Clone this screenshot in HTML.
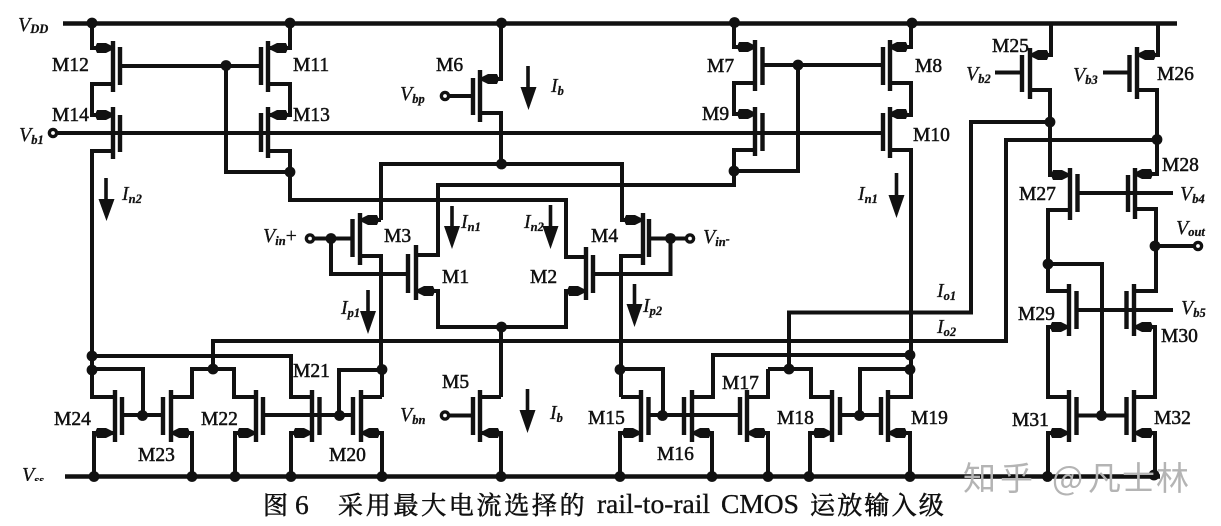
<!DOCTYPE html>
<html><head><meta charset="utf-8"><title>rail-to-rail CMOS</title>
<style>
html,body{margin:0;padding:0;background:#fff;width:1221px;height:526px;overflow:hidden}
svg{display:block}
.w{fill:none;stroke:#111;stroke-width:4;stroke-linejoin:miter}
.c{fill:none;stroke:#111;stroke-width:4.4}
.m{font:19.5px "Liberation Serif",serif;fill:#111;stroke:#111;stroke-width:.5}
.i{font:italic 20px "Liberation Serif",serif;fill:#111;stroke:#111;stroke-width:.25}
.i tspan{font-size:12.5px;font-weight:bold}
.a{fill:#111;stroke:none}
.k{font:25px "Noto Serif CJK SC","Liberation Serif",serif;fill:#111;stroke:#111;stroke-width:.6}
.l{font:27.5px "Liberation Serif",serif;fill:#111;stroke:#111;stroke-width:.35}
.z{font:33px "Noto Sans CJK SC","Liberation Sans",sans-serif;fill:#b4b4b4}
</style></head><body>
<svg width="1221" height="526" viewBox="0 0 1221 526" xmlns="http://www.w3.org/2000/svg">
<defs>
<path id="r" d="M-7,-5 Q-10,0 -7,5 L2,5 L9,1.500 L9,-1.500 L2,-5Z" fill="#111"/>
<path id="l" d="M7,-5 Q10,0 7,5 L-2,5 L-9,1.500 L-9,-1.500 L-2,-5Z" fill="#111"/>
<circle id="d" r="5.4" fill="#111"/>
</defs>
<rect width="1221" height="526" fill="#fff"/>

<!-- rails -->
<path class="w" style="stroke-width:4.4" d="M63,23.5H1177"/>
<path class="w" style="stroke-width:4.4" d="M65,476.5H1160"/>
<path class="w" d="M58,133H882"/>

<!-- upper left -->
<path class="w" d="M92,23V48H113M113,84H92V115H113M113,151H92V356M122,66H261"/>
<path class="w" d="M290,23V48H268M268,84H290V115H268M268,151H290V200H566V257H586M226,66V172H290"/>
<path class="c" d="M113,41V92M120,47V85M113,107V159M120,115V152M268,41V92M261,47V85M268,107V158M261,113V152"/>

<!-- M6 -->
<path class="w" d="M501,23V79H480M480,113H501V164M449,96H473"/>
<path class="c" d="M480,70V122M473,78V115"/>

<!-- tail node -->
<path class="w" d="M381,220V164H622V220H643M381,220H360M360,256H381V370"/>
<path class="w" d="M643,256H621V397"/>
<path class="w" d="M382,370V397M416,255H438V185H734V171"/>

<!-- M7 M9 -->
<path class="w" d="M734,23V47H755M755,83H734V114H755M755,150H734V185M734,171H798V65M763,65H883"/>
<path class="c" d="M755,40V91M762.5,47V85M755,107V156M762.5,113V151"/>

<!-- M8 M10 -->
<path class="w" d="M911,23V47H890M890,83H911V115H890M890,150H911V369"/>
<path class="c" d="M890,40V91M883,47V85M890,107V158M883,113V151"/>

<!-- M3 M4 M1 M2 -->
<path class="w" d="M314,238.5H352M331,238.5V274H408"/>
<path class="w" d="M686,238.5H649M670.5,238.5V274H593"/>
<path class="w" d="M416,291H438V327H566V291H586M501,327V397"/>
<path class="c" d="M360,213V265M352.5,219V257M643,213V265M649,219V257M416,245V300M408,254V293M586,247V300M593,255V293"/>

<!-- M5 -->
<path class="w" d="M449,415.5H473M480,397H501M480,433H501V476"/>
<path class="c" d="M480,390V442M473,397V435"/>

<!-- Io lines -->
<path class="w" d="M1050,122H971V312.5H789V369"/>
<path class="w" d="M1157,140H1006V341H213V369"/>

<!-- lower left mirrors -->
<path class="w" d="M92,356H291V397H312M92,356V397H115M92,369H143V415M122,415H163"/>
<path class="w" d="M171,397H192V369H234V397H256M263,415H353M339,415V370H382M361,397H382"/>
<path class="w" d="M115,433H94V476M171,433H192V476M256,433H235V476M312,433H291V476M361,433H382V476"/>
<path class="c" d="M115,390V442M122,397V435M171,390V442M163,397V435M256,390V442M263,397V435M312,390V442M319.5,397V435M361,390V442M353,397V435"/>

<!-- lower right mirrors -->
<path class="w" d="M621,369H663V415M621,397H641M649,415H740M692,397H713V355H911M768,369H811V397H832M768,369V397H747M840,415H881M860,415V369H911M888,397H911V369"/>
<path class="w" d="M641,433H620V476M692,433H712V476M747,433H768V476M832,433H810V476M888,433H910V476"/>
<path class="c" d="M641,390V442M648.5,397V435M692,390V442M684,397V435M747,390V442M740,397V435M832,390V442M840,397V435M888,390V442M881,397V435"/>

<!-- output stage -->
<path class="w" d="M1051,23V55H1030M1030,90H1050V175H1070M995,72.5H1022"/>
<path class="w" d="M1158,23V55H1137M1137,90H1157V174H1135M1103,72.5H1129"/>
<path class="w" d="M1077,193H1173M1070,210H1048V291H1069M1048,264H1102V415M1135,209H1156V291H1134M1156,246H1194"/>
<path class="w" d="M1077,310H1173M1069,327H1048V397H1069M1134,327H1155V397H1134M1077,415.5H1126M1069,433H1048V476M1134,433H1155V476"/>
<path class="c" d="M1030,48V99M1022,55V92M1137,47V99M1129.5,55V92M1070,168V220M1077.5,174V212M1135,168V219M1128,175V212M1069,284V336M1076.5,291V329M1134,284V336M1126.5,291V329M1069,390V442M1076.5,397V435M1134,390V442M1126.5,397V435"/>

<!-- source arrows -->
<use href="#r" x="104" y="48"/><use href="#r" x="104" y="115"/><use href="#r" x="746" y="47"/><use href="#r" x="746" y="114"/><use href="#r" x="633" y="220"/><use href="#r" x="1060" y="175"/>
<use href="#l" x="279" y="48"/><use href="#l" x="279" y="115"/><use href="#l" x="490" y="79"/><use href="#l" x="899" y="47"/><use href="#l" x="899" y="114"/><use href="#l" x="370" y="220"/><use href="#l" x="1040" y="55"/><use href="#l" x="1147" y="55"/><use href="#l" x="1144" y="174"/>
<use href="#r" x="104" y="433"/><use href="#r" x="302" y="433"/><use href="#r" x="246" y="433"/><use href="#r" x="631" y="433"/><use href="#r" x="576" y="291"/><use href="#r" x="1059" y="327"/><use href="#r" x="1059" y="433"/><use href="#r" x="822" y="433"/>
<use href="#l" x="426" y="291"/><use href="#l" x="491" y="433"/><use href="#l" x="181" y="433"/><use href="#l" x="371" y="433"/><use href="#l" x="702" y="433"/><use href="#l" x="757" y="433"/><use href="#l" x="898" y="433"/><use href="#l" x="1144" y="327"/><use href="#l" x="1144" y="433"/>

<!-- dots -->
<use href="#d" x="92" y="23"/><use href="#d" x="290" y="23"/><use href="#d" x="501.5" y="23"/><use href="#d" x="734.5" y="22.5"/><use href="#d" x="912" y="23"/>
<use href="#d" x="226" y="65.5"/><use href="#d" x="798" y="65"/><use href="#d" x="290" y="172"/><use href="#d" x="734" y="171"/><use href="#d" x="501.5" y="164"/>
<use href="#d" x="331" y="238.5"/><use href="#d" x="670.5" y="238.5"/><use href="#d" x="501.5" y="327"/>
<use href="#d" x="92" y="356"/><use href="#d" x="92" y="370"/><use href="#d" x="213" y="369"/><use href="#d" x="382" y="369.5"/><use href="#d" x="620" y="369.5"/><use href="#d" x="789" y="369"/><use href="#d" x="910" y="355"/><use href="#d" x="910" y="369.5"/>
<use href="#d" x="142.5" y="415.5"/><use href="#d" x="339.5" y="415.5"/><use href="#d" x="662.5" y="415.5"/><use href="#d" x="859.5" y="415.5"/><use href="#d" x="1101.5" y="415.5"/>
<use href="#d" x="94" y="476.5"/><use href="#d" x="192" y="476.5"/><use href="#d" x="235" y="476.5"/><use href="#d" x="291" y="476.5"/><use href="#d" x="382" y="476.5"/><use href="#d" x="501" y="476.5"/><use href="#d" x="620" y="476.5"/><use href="#d" x="712" y="476.5"/><use href="#d" x="768" y="476.5"/><use href="#d" x="809" y="476.5"/><use href="#d" x="910" y="476.5"/><use href="#d" x="1047.5" y="476.5"/><use href="#d" x="1154" y="475"/>
<use href="#d" x="1050" y="122"/><use href="#d" x="1157" y="139.5"/><use href="#d" x="1048" y="264"/><use href="#d" x="1155" y="246"/>

<!-- terminals -->
<g fill="#fff" stroke="#111" stroke-width="3.4">
<circle cx="53" cy="133" r="3.6"/><circle cx="445" cy="96" r="3.6"/><circle cx="310" cy="238.5" r="3.6"/><circle cx="690" cy="238.5" r="3.6"/><circle cx="445" cy="415.5" r="3.6"/><circle cx="1198" cy="246" r="3.6"/>
</g>

<!-- current arrows -->
<g stroke="#111" stroke-width="3.6" fill="none">
<path d="M106,178V205M528,66V92M896.5,173V198M452,206V232M550.5,205V232M368,290V316M634.5,284V310M527.5,389V414"/>
</g>
<g class="a">
<path d="M98.500,199H114.500L106.500,221Z"/><path d="M520.500,87H536.500L528.500,110Z"/><path d="M888.500,195H904.500L896.500,218Z"/><path d="M444,226H460L452,249Z"/><path d="M542.500,226H558.500L550.500,249Z"/><path d="M360,311H376L368,334Z"/><path d="M626.500,304H642.500L634.500,327Z"/><path d="M519.500,410H535.500L527.500,433Z"/>
</g>

<!-- transistor labels -->
<g class="m">
<text x="52" y="71">M12</text><text x="52" y="121">M14</text><text x="293" y="71">M11</text><text x="293" y="121">M13</text>
<text x="436" y="71">M6</text><text x="707" y="72">M7</text><text x="702" y="120">M9</text><text x="915" y="72">M8</text><text x="913" y="141">M10</text>
<text x="992" y="52">M25</text><text x="1157" y="80">M26</text><text x="1162" y="171">M28</text><text x="1019" y="200">M27</text>
<text x="384" y="242">M3</text><text x="591" y="242">M4</text><text x="442" y="283">M1</text><text x="530" y="283">M2</text>
<text x="293" y="377">M21</text><text x="54" y="425">M24</text><text x="138" y="461">M23</text><text x="201" y="425">M22</text><text x="329" y="461">M20</text>
<text x="442" y="388">M5</text><text x="588" y="424">M15</text><text x="657" y="460">M16</text><text x="722" y="389">M17</text><text x="777" y="424">M18</text><text x="911" y="424">M19</text>
<text x="1018" y="320">M29</text><text x="1161" y="342">M30</text><text x="1012" y="426">M31</text><text x="1154" y="424">M32</text>
</g>

<!-- signal labels -->
<g class="i">
<text x="18" y="31">V<tspan dy="2">DD</tspan></text>
<text x="19" y="141">V<tspan dy="3">b1</tspan></text>
<text x="400" y="100">V<tspan dy="3">bp</tspan></text>
<text x="263" y="242">V<tspan dy="3">in</tspan><tspan dy="-3" style="font-size:20px;font-style:normal;font-weight:normal">+</tspan></text>
<text x="703" y="243">V<tspan dy="3">in</tspan><tspan dy="-3">-</tspan></text>
<text x="966" y="80">V<tspan dy="3">b2</tspan></text>
<text x="1073" y="81">V<tspan dy="3">b3</tspan></text>
<text x="1180" y="200">V<tspan dy="3">b4</tspan></text>
<text x="1176" y="234">V<tspan dy="2">out</tspan></text>
<text x="1181" y="314">V<tspan dy="3">b5</tspan></text>
<text x="400" y="421">V<tspan dy="3">bn</tspan></text>
<text x="22" y="481">V<tspan dy="3">ss</tspan></text>
<text x="551" y="92">I<tspan dy="3">b</tspan></text>
<text x="550" y="419">I<tspan dy="3">b</tspan></text>
<text x="122" y="200">I<tspan dy="3">n2</tspan></text>
<text x="461" y="228">I<tspan dy="3">n1</tspan></text>
<text x="524" y="228">I<tspan dy="3">n2</tspan></text>
<text x="858" y="200">I<tspan dy="3">n1</tspan></text>
<text x="341" y="314">I<tspan dy="3">p1</tspan></text>
<text x="643" y="312">I<tspan dy="3">p2</tspan></text>
<text x="937" y="297">I<tspan dy="3">o1</tspan></text>
<text x="937" y="333">I<tspan dy="3">o2</tspan></text>
</g>
<rect x="20" y="481" width="40" height="12" fill="#fff"/>

<!-- caption -->
<text class="k" x="263" y="514">图</text>
<text class="l" x="295" y="514">6</text>
<text class="k" x="338" y="514" style="letter-spacing:2.7px">采用最大电流选择的</text>
<text class="l" x="597" y="513">rail-to-rail</text>
<text class="l" x="721" y="513">CMOS</text>
<text class="k" x="810" y="514" style="letter-spacing:2.2px">运放输入级</text>

<!-- watermark -->
<text class="z" x="963" y="490" style="letter-spacing:4px">知乎</text>
<text class="z" x="1052" y="490">@</text>
<text class="z" x="1088" y="490" style="letter-spacing:1px">凡士林</text>
</svg>
</body></html>
